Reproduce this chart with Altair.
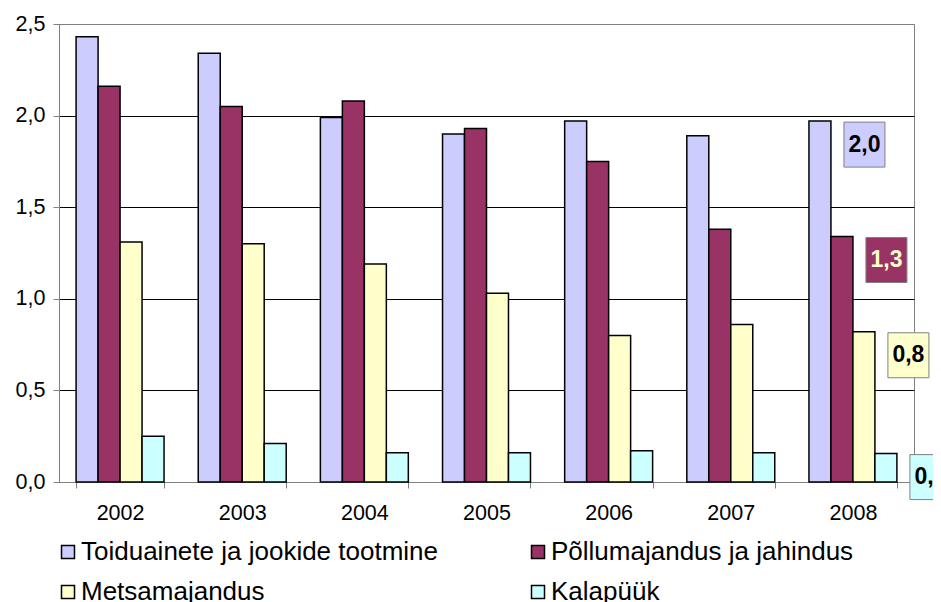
import altair as alt
import pandas as pd

years = ["2002", "2003", "2004", "2005", "2006", "2007", "2008"]
series = ["Toiduainete ja jookide tootmine", "Põllumajandus ja jahindus", "Metsamajandus", "Kalapüük"]
toid = [2.43, 2.34, 1.99, 1.90, 1.97, 1.89, 1.97]
pollu = [2.16, 2.05, 2.08, 1.93, 1.75, 1.38, 1.34]
mets = [1.31, 1.30, 1.19, 1.03, 0.80, 0.86, 0.82]
kala = [0.25, 0.21, 0.16, 0.16, 0.17, 0.16, 0.155]
colors = ["#CCCCFF", "#993366", "#FFFFCC", "#CCFFFF"]
y_ticks = [0, 0.5, 1.0, 1.5, 2.0, 2.5]
label_year = "2008"

rows = []
for s, vals in zip(series, [toid, pollu, mets, kala]):
    for y, v in zip(years, vals):
        rows.append({"year": y, "series": s, "value": v})
df = pd.DataFrame(rows)

FONT = "Liberation Sans"
GRAY = "#808080"

x = alt.X("year:N", title=None, sort=years,
          scale=alt.Scale(paddingInner=0.28, paddingOuter=0.14),
          axis=alt.Axis(labelAngle=0, tickBand="extent", domainColor=GRAY, tickColor=GRAY,
                        tickSize=6, labelFontSize=21.5, labelFont=FONT, labelColor="black",
                        labelPadding=14, grid=False))
xo = alt.XOffset("series:N", sort=series, scale=alt.Scale(domain=series))
y = alt.Y("value:Q", title=None, scale=alt.Scale(domain=[0, 2.5], nice=False),
          axis=alt.Axis(values=y_ticks, labelExpr="replace(format(datum.value, '.1f'), '.', ',')",
                        labelFontSize=21.5, labelFont=FONT, labelColor="black", labelPadding=8,
                        domainColor=GRAY, tickColor=GRAY, tickSize=6,
                        gridColor={"condition": {"test": "datum.value == 2.5", "value": GRAY}, "value": "black"},
                        gridWidth=1))

bars = alt.Chart(df).mark_bar(stroke="black", strokeWidth=1.5).encode(
    x=x, xOffset=xo, y=y,
    color=alt.Color("series:N", sort=series, scale=alt.Scale(domain=series, range=colors),
                    legend=alt.Legend(title=None, orient="none", legendX=-4, legendY=515, columns=2,
                                      columnPadding=86, rowPadding=14, symbolType="square",
                                      symbolSize=169, symbolStrokeColor="black", symbolStrokeWidth=1.5,
                                      labelFontSize=26, labelFont=FONT, labelColor="black",
                                      labelLimit=1000, labelOffset=0, padding=0, direction="horizontal"))
)

lab_df = df[df["year"] == label_year]
boxes = alt.Chart(lab_df).mark_point(shape="M24,1H65V46H24Z", size=4, filled=True, opacity=1,
                                     stroke=GRAY, strokeWidth=1).encode(
    x=x, xOffset=xo, y=y,
    fill=alt.Fill("series:N", scale=alt.Scale(domain=series, range=colors), legend=None)
)
texts = alt.Chart(lab_df).mark_text(dx=44.5, dy=23.5, fontSize=23, fontWeight="bold", font=FONT,
                                    align="center", baseline="middle").encode(
    x=x, xOffset=xo, y=y,
    text=alt.Text("lbl:N"),
    color=alt.condition(alt.datum.series == series[1], alt.value("#FFFFCC"), alt.value("black"))
).transform_calculate(lbl="replace(format(datum.value, '.1f'), '.', ',')")

chart = alt.layer(bars, boxes, texts).properties(
    width=855, height=458,
    autosize=alt.AutoSizeParams(type="none"),
    padding={"left": 51, "top": 16, "right": 19, "bottom": 128},
    background="white"
).configure_view(stroke=GRAY, strokeWidth=1)

chart.save("out.html", embed_options={"renderer": "svg", "actions": False})
